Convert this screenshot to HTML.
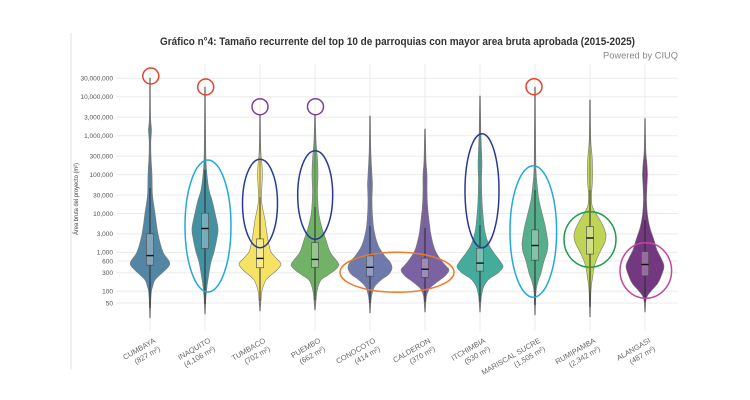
<!DOCTYPE html>
<html>
<head>
<meta charset="utf-8">
<style>
  html,body{margin:0;padding:0;background:#ffffff;}
  svg{display:block;}
  text{font-family:"Liberation Sans", sans-serif;}
</style>
</head>
<body>
<svg id="chart" width="750" height="400" viewBox="0 0 750 400" xmlns="http://www.w3.org/2000/svg">
  <rect x="0" y="0" width="750" height="400" fill="#ffffff"/>
  <!-- left frame line -->
  <line x1="71" y1="33" x2="71" y2="370" stroke="#e2e2e2" stroke-width="1"/>

  <!-- horizontal gridlines -->
  <g stroke="#ebebeb" stroke-width="1">
    <line x1="116" x2="678" y1="78.2" y2="78.2"/>
    <line x1="116" x2="678" y1="96.8" y2="96.8"/>
    <line x1="116" x2="678" y1="117.1" y2="117.1"/>
    <line x1="116" x2="678" y1="135.7" y2="135.7"/>
    <line x1="116" x2="678" y1="156.1" y2="156.1"/>
    <line x1="116" x2="678" y1="174.6" y2="174.6"/>
    <line x1="116" x2="678" y1="195.0" y2="195.0"/>
    <line x1="116" x2="678" y1="213.5" y2="213.5"/>
    <line x1="116" x2="678" y1="233.9" y2="233.9"/>
    <line x1="116" x2="678" y1="252.4" y2="252.4"/>
    <line x1="116" x2="678" y1="261.0" y2="261.0"/>
    <line x1="116" x2="678" y1="272.8" y2="272.8"/>
    <line x1="116" x2="678" y1="291.3" y2="291.3"/>
    <line x1="116" x2="678" y1="303.0" y2="303.0"/>
  </g>
  <!-- vertical gridlines -->
  <g stroke="#ebebeb" stroke-width="1">
    <line x1="150" x2="150" y1="64" y2="331"/>
    <line x1="205" x2="205" y1="64" y2="331"/>
    <line x1="260" x2="260" y1="64" y2="331"/>
    <line x1="315" x2="315" y1="64" y2="331"/>
    <line x1="370" x2="370" y1="64" y2="331"/>
    <line x1="425" x2="425" y1="64" y2="331"/>
    <line x1="480" x2="480" y1="64" y2="331"/>
    <line x1="535" x2="535" y1="64" y2="331"/>
    <line x1="590" x2="590" y1="64" y2="331"/>
    <line x1="645" x2="645" y1="64" y2="331"/>
  </g>

  <!-- y tick labels -->
  <g font-size="6.5" fill="#555" text-anchor="end">
    <text x="113" y="80.5">30,000,000</text>
    <text x="113" y="99.1">10,000,000</text>
    <text x="113" y="119.4">3,000,000</text>
    <text x="113" y="138.0">1,000,000</text>
    <text x="113" y="158.4">300,000</text>
    <text x="113" y="176.9">100,000</text>
    <text x="113" y="197.3">30,000</text>
    <text x="113" y="215.8">10,000</text>
    <text x="113" y="236.2">3,000</text>
    <text x="113" y="254.7">1,000</text>
    <text x="113" y="263.3">600</text>
    <text x="113" y="275.1">300</text>
    <text x="113" y="293.6">100</text>
    <text x="113" y="305.3">50</text>
  </g>

  <!-- y axis title -->
  <text transform="translate(78,235) rotate(-90)" font-size="6" fill="#444" textLength="72" lengthAdjust="spacingAndGlyphs">Área bruta del proyecto (m²)</text>

  <!-- title -->
  <text x="160" y="45" font-size="11" font-weight="bold" fill="#333" textLength="475" lengthAdjust="spacingAndGlyphs">Gráfico n°4: Tamaño recurrente del top 10 de parroquias con mayor area bruta aprobada (2015-2025)</text>
  <text x="678" y="58.5" font-size="9.5" fill="#888" text-anchor="end" textLength="75" lengthAdjust="spacingAndGlyphs">Powered by CIUQ</text>

  <!-- violins drawn by script -->
  <g id="violins"></g>

  <!-- annotation ellipses -->
  <g fill="none" stroke-width="1.5">
    <circle cx="150.8" cy="76" r="8" stroke="#e5432f"/>
    <circle cx="205.7" cy="87" r="8" stroke="#e5432f"/>
    <circle cx="534" cy="86.7" r="8" stroke="#e5432f"/>
    <circle cx="260" cy="106.7" r="8" stroke="#7d3f9d"/>
    <circle cx="315.5" cy="106.7" r="8" stroke="#7d3f9d"/>
    <ellipse cx="208" cy="226" rx="23" ry="66" stroke="#22a7e0"/>
    <ellipse cx="533.3" cy="231.5" rx="23.3" ry="65.8" stroke="#22a7e0"/>
    <ellipse cx="260" cy="203.5" rx="17.5" ry="44.2" stroke="#283a94"/>
    <ellipse cx="315.2" cy="195" rx="17.5" ry="44.3" stroke="#283a94"/>
    <ellipse cx="482" cy="190.7" rx="17" ry="57" stroke="#283a94"/>
    <ellipse cx="397" cy="272.3" rx="57" ry="20" stroke="#ec7a2c"/>
    <ellipse cx="590" cy="239.5" rx="26" ry="27.8" stroke="#1e9b4b"/>
    <ellipse cx="645.8" cy="270.5" rx="25.8" ry="27.8" stroke="#c0479c"/>
  </g>

  <!-- x labels -->
  <g font-size="7.5" fill="#666" text-anchor="end">
    <text transform="translate(156,342) rotate(-30)"><tspan x="0" y="0">CUMBAYA</tspan><tspan x="0" y="9.5">(827 m²)</tspan></text>
    <text transform="translate(211,342) rotate(-30)"><tspan x="0" y="0">INAQUITO</tspan><tspan x="0" y="9.5">(4,106 m²)</tspan></text>
    <text transform="translate(266,342) rotate(-30)"><tspan x="0" y="0">TUMBACO</tspan><tspan x="0" y="9.5">(702 m²)</tspan></text>
    <text transform="translate(321,342) rotate(-30)"><tspan x="0" y="0">PUEMBO</tspan><tspan x="0" y="9.5">(662 m²)</tspan></text>
    <text transform="translate(376,342) rotate(-30)"><tspan x="0" y="0">CONOCOTO</tspan><tspan x="0" y="9.5">(414 m²)</tspan></text>
    <text transform="translate(431,342) rotate(-30)"><tspan x="0" y="0">CALDERON</tspan><tspan x="0" y="9.5">(370 m²)</tspan></text>
    <text transform="translate(486,342) rotate(-30)"><tspan x="0" y="0">ITCHIMBIA</tspan><tspan x="0" y="9.5">(530 m²)</tspan></text>
    <text transform="translate(541,342) rotate(-30)"><tspan x="0" y="0">MARISCAL SUCRE</tspan><tspan x="0" y="9.5">(1,505 m²)</tspan></text>
    <text transform="translate(596,342) rotate(-30)"><tspan x="0" y="0">RUMIPAMBA</tspan><tspan x="0" y="9.5">(2,342 m²)</tspan></text>
    <text transform="translate(651,342) rotate(-30)"><tspan x="0" y="0">ALANGASI</tspan><tspan x="0" y="9.5">(487 m²)</tspan></text>
  </g>
</svg>
<script>
(function(){
  var NS="http://www.w3.org/2000/svg";
  var g=document.getElementById("violins");
  var V=[
    {x:150,c:"#4a7ea0",p:[[78,0.4],[117,0.6],[130,1.5],[142,0.8],[156,1],[175,2],[195,2.5],[213,5],[234,8],[252,13],[261,19],[266,19],[273,12],[280,5],[287,2.5],[291,1.5],[300,0.8],[318,0.3]],b:[234,265],m:255.6,w:188},
    {x:205,c:"#3a8c9c",p:[[87,0.4],[130,0.6],[160,1],[175,2],[190,4],[200,7],[213,10],[228,13],[238,12],[252,9],[262,6],[273,4],[283,2.5],[291,1.5],[300,0.8],[314,0.3]],b:[213.3,248.3],m:228.5,w:170},
    {x:260,c:"#f5e25c",p:[[115,0.4],[150,0.8],[165,2],[175,2.5],[185,2],[200,1.5],[210,3],[220,5],[234,7],[245,9],[252,11],[258,16],[264,21],[270,17],[275,11],[280,6],[287,3],[294,1.5],[311,0.3]],b:[239,267.7],m:258.4,w:197},
    {x:315,c:"#6aae5e",p:[[115,0.4],[140,1],[160,2.5],[175,3],[190,2.5],[205,3],[215,4],[228,7],[240,11],[252,15],[260,21],[265,24],[270,20],[275,13],[280,6],[287,3],[295,1.5],[310,0.3]],b:[242.7,267.3],m:259.4,w:207},
    {x:370,c:"#6673a8",p:[[116,0.4],[150,0.8],[175,2],[185,2.5],[200,2],[215,2.5],[230,4],[245,8],[255,14],[262,20],[268,22],[274,19],[280,11],[286,5],[292,2.5],[300,1],[313,0.3]],b:[256,276],m:267.3,w:226},
    {x:425,c:"#745a9e",p:[[129,0.4],[160,1],[175,2],[190,2],[205,2.5],[220,4],[235,6],[250,10],[260,16],[266,21],[270,24],[276,20],[282,12],[288,5],[294,2],[300,1],[312,0.3]],b:[258.3,277.3],m:269.2,w:228},
    {x:480,c:"#3aa896",p:[[96,0.4],[130,0.8],[150,1.5],[165,2],[180,1.5],[200,2],[215,3],[232,5],[245,9],[253,14],[261,20],[267,23],[273,18],[279,9],[286,4],[293,2],[300,1],[312,0.3]],b:[248.3,271],m:263.1,w:225},
    {x:535,c:"#4caa86",p:[[87,0.4],[130,0.6],[170,1],[188,2.5],[200,4],[213,7],[225,10],[236,12],[244,13],[252,12],[261,9],[273,6],[280,3.5],[288,1.5],[296,0.8],[315,0.3]],b:[230,260],m:245.5,w:190},
    {x:590,c:"#bcd24c",p:[[100,0.4],[140,0.8],[155,2],[165,2.5],[180,2.5],[195,1.5],[205,2],[212,5],[220,10],[228,14],[235,16],[242,15],[252,10],[261,6],[268,4],[278,2.5],[290,1],[317,0.3]],b:[226.7,254],m:238,w:190},
    {x:645,c:"#6b2d78",p:[[118.5,0.4],[150,0.8],[165,2],[175,2.5],[185,2],[200,1.5],[215,2.5],[228,5],[240,9],[250,12],[258,16],[266,19],[274,17],[283,13],[290,7],[295,3],[300,1],[312,0.3]],b:[251.7,275.7],m:264.5,w:220}
  ];
  function cr(pts){
    var d="";
    for(var i=0;i<pts.length-1;i++){
      var p0=pts[i>0?i-1:i],p1=pts[i],p2=pts[i+1],p3=pts[i+2<pts.length?i+2:i+1];
      var c1x=p1[0]+(p2[0]-p0[0])/6,c1y=p1[1]+(p2[1]-p0[1])/6;
      var c2x=p2[0]-(p3[0]-p1[0])/6,c2y=p2[1]-(p3[1]-p1[1])/6;
      d+=" C"+c1x.toFixed(2)+","+c1y.toFixed(2)+" "+c2x.toFixed(2)+","+c2y.toFixed(2)+" "+p2[0].toFixed(2)+","+p2[1].toFixed(2);
    }
    return d;
  }
  function el(n,a){var e=document.createElementNS(NS,n);for(var k in a)e.setAttribute(k,a[k]);g.appendChild(e);return e;}
  V.forEach(function(v){
    var R=v.p.map(function(q){return [v.x+q[1],q[0]];});
    var L=v.p.slice().reverse().map(function(q){return [v.x-q[1],q[0]];});
    var d="M"+R[0][0]+","+R[0][1]+cr(R)+" L"+L[0][0]+","+L[0][1]+cr(L)+" Z";
    var top=v.p[0][0],bot=v.p[v.p.length-1][0];
    el("path",{d:d,fill:v.c,"fill-opacity":"0.95",stroke:"#7a7a7a","stroke-width":"0.6"});
    el("line",{x1:v.x,x2:v.x,y1:top,y2:bot,stroke:"#6e6e6e","stroke-width":"0.9"});
    el("line",{x1:v.x,x2:v.x,y1:v.w,y2:bot-10,stroke:"#2a2a2a","stroke-width":"1"});
    el("rect",{x:v.x-3.5,y:v.b[0],width:7,height:v.b[1]-v.b[0],fill:v.c,stroke:"#3a3a3a","stroke-width":"0.7"});
    el("rect",{x:v.x-3.5,y:v.b[0],width:7,height:v.b[1]-v.b[0],fill:"#ffffff","fill-opacity":"0.3",stroke:"none"});
    el("line",{x1:v.x-3.5,x2:v.x+3.5,y1:v.m,y2:v.m,stroke:"#111","stroke-width":"1.4"});
  });
})();
</script>
</body>
</html>
